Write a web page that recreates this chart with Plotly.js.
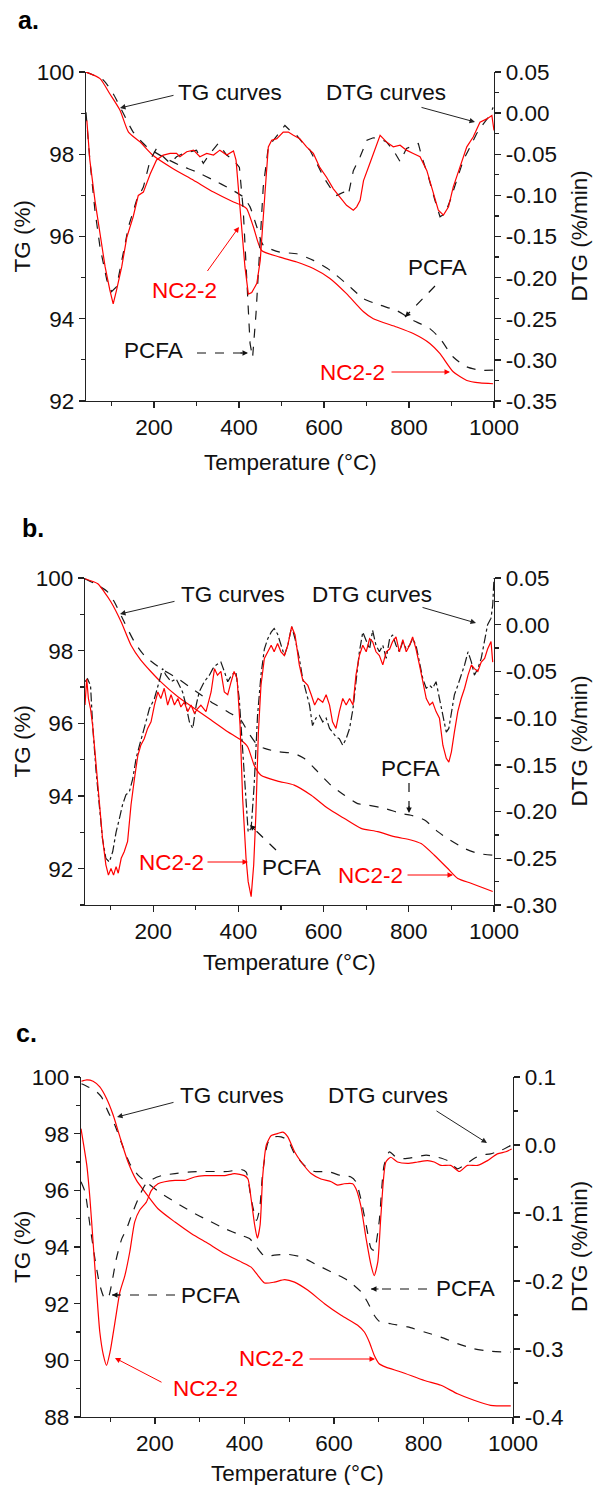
<!DOCTYPE html>
<html><head><meta charset="utf-8">
<script src="https://cdn.plot.ly/plotly-3.0.1.min.js"></script>
<style>html,body{margin:0;padding:0;background:#fff}#plot{width:594px;height:1485px}</style>
</head><body><div id="plot"></div>
<script>
// ---------- Panel a ----------
const aTgNcT = [40,73,96,120,140,167,198,245,293,340,387,406,418,434,453,496,536,575,614,653,693,716,771,810,849,873,904,936,967,998];
const aTgNc  = [100,99.84,99.47,99.07,98.54,98.3,97.97,97.65,97.37,97.08,96.84,96.76,96.68,96.23,95.66,95.5,95.38,95.22,94.98,94.61,94.17,94.0,93.8,93.64,93.4,93.15,92.71,92.5,92.44,92.42];
const aTgPcT = [40,81,104,128,151,183,222,261,300,340,379,410,426,442,457,496,536,575,614,653,693,732,771,810,849,873,904,936,967,998];
const aTgPc  = [100,99.8,99.47,98.99,98.54,98.18,97.93,97.73,97.57,97.37,97.16,96.96,96.72,96.23,95.79,95.62,95.58,95.42,95.18,94.85,94.49,94.33,94.2,93.96,93.76,93.52,93.07,92.83,92.75,92.75];
const aDtgNcT = [42,49,61,73,85,96,104,112,124,136,151,163,175,191,206,222,238,253,261,277,293,308,324,340,355,371,387,393,398,406,414,422,430,442,450,461,469,477,489,504,516,528,543,559,575,590,606,622,638,653,669,677,685,693,708,724,732,747,763,779,794,810,826,842,857,869,881,893,904,920,936,951,967,983,995,1000];
const aDtgNc  = [-0.009,-0.057,-0.106,-0.147,-0.187,-0.215,-0.232,-0.215,-0.187,-0.151,-0.126,-0.1,-0.096,-0.074,-0.057,-0.051,-0.049,-0.049,-0.053,-0.047,-0.045,-0.053,-0.049,-0.051,-0.045,-0.051,-0.046,-0.057,-0.09,-0.138,-0.187,-0.22,-0.218,-0.207,-0.179,-0.098,-0.041,-0.033,-0.031,-0.023,-0.023,-0.027,-0.031,-0.041,-0.049,-0.066,-0.078,-0.092,-0.102,-0.112,-0.118,-0.114,-0.106,-0.082,-0.061,-0.037,-0.027,-0.035,-0.041,-0.039,-0.045,-0.049,-0.053,-0.07,-0.098,-0.118,-0.124,-0.114,-0.09,-0.066,-0.041,-0.029,-0.011,-0.007,-0.003,-0.021];
const aDtgPcT = [40,49,61,73,89,100,112,124,140,159,175,191,206,222,238,253,269,285,300,316,332,351,371,387,401,410,418,426,432,440,449,457,469,481,497,508,520,536,551,567,583,599,614,630,646,657,669,685,701,716,732,747,763,779,794,810,822,830,846,861,873,885,897,912,928,944,959,975,987,998];
const aDtgPc  = [0.001,-0.057,-0.118,-0.163,-0.203,-0.217,-0.211,-0.179,-0.138,-0.106,-0.09,-0.057,-0.043,-0.053,-0.061,-0.053,-0.049,-0.047,-0.045,-0.061,-0.049,-0.037,-0.051,-0.057,-0.066,-0.118,-0.199,-0.28,-0.297,-0.244,-0.163,-0.09,-0.041,-0.033,-0.023,-0.015,-0.021,-0.027,-0.037,-0.045,-0.061,-0.078,-0.09,-0.1,-0.096,-0.1,-0.07,-0.053,-0.033,-0.03,-0.031,-0.035,-0.045,-0.059,-0.043,-0.039,-0.037,-0.053,-0.078,-0.106,-0.126,-0.122,-0.106,-0.082,-0.057,-0.041,-0.025,-0.013,-0.005,0.007];
const aDtgTicks  = [0.05,0,-0.05,-0.1,-0.15,-0.2,-0.25,-0.3,-0.35];
const aDtgLabels = ['0.05','0.00','-0.05','-0.10','-0.15','-0.20','-0.25','-0.30','-0.35'];

// ---------- Panel b ----------
const bTgNcT = [40,70,85,101,125,148,171,195,218,258,297,336,375,406,422,437,453,492,531,571,610,649,688,727,766,805,829,860,891,915,946,977,997];
const bTgNc  = [99.98,99.84,99.62,99.34,98.79,98.15,97.74,97.42,97.14,96.73,96.41,96.09,95.77,95.54,95.35,94.85,94.57,94.41,94.3,94.02,93.66,93.38,93.11,93.02,92.88,92.79,92.69,92.37,92.01,91.73,91.6,91.46,91.37];
const bTgPcT = [40,70,93,109,132,156,179,218,258,297,336,375,406,422,445,461,492,531,555,586,617,649,680,703,743,782,805,837,868,891,930,962,997];
const bTgPc  = [99.98,99.8,99.62,99.34,98.79,98.24,97.87,97.51,97.23,96.91,96.59,96.32,96.09,95.77,95.4,95.31,95.22,95.17,95.03,94.67,94.3,94.02,93.79,93.75,93.66,93.52,93.47,93.34,93.02,92.83,92.56,92.42,92.37];
const bDtgNcT = [40,44,48,53,58,66,74,81,89,95,101,107,113,118,125,132,140,148,156,164,171,179,187,195,203,211,218,226,234,242,250,258,265,273,281,289,297,304,312,324,336,344,351,359,367,375,383,390,397,404,410,418,423,430,436,441,447,453,461,469,477,484,492,500,508,516,525,533,543,551,563,571,579,587,598,606,614,621,629,637,645,653,661,669,676,684,692,700,708,715,723,731,739,747,755,762,770,778,786,794,802,809,817,825,833,841,849,856,864,872,880,888,894,900,907,915,923,931,939,947,954,962,970,978,985,993,997];
const bDtgNc  = [-0.086,-0.058,-0.079,-0.09,-0.108,-0.15,-0.185,-0.228,-0.257,-0.268,-0.261,-0.268,-0.259,-0.266,-0.25,-0.243,-0.232,-0.193,-0.165,-0.14,-0.129,-0.122,-0.111,-0.104,-0.086,-0.072,-0.079,-0.068,-0.086,-0.075,-0.086,-0.079,-0.088,-0.083,-0.093,-0.086,-0.095,-0.09,-0.086,-0.093,-0.072,-0.047,-0.054,-0.05,-0.072,-0.075,-0.061,-0.05,-0.058,-0.108,-0.186,-0.25,-0.275,-0.291,-0.257,-0.204,-0.115,-0.065,-0.036,-0.029,-0.022,-0.029,-0.02,-0.029,-0.033,-0.022,-0.002,-0.011,-0.043,-0.059,-0.065,-0.075,-0.086,-0.079,-0.083,-0.075,-0.086,-0.104,-0.111,-0.093,-0.079,-0.086,-0.079,-0.086,-0.054,-0.033,-0.022,-0.029,-0.015,-0.018,-0.029,-0.033,-0.043,-0.029,-0.026,-0.018,-0.013,-0.029,-0.016,-0.029,-0.022,-0.013,-0.026,-0.043,-0.061,-0.079,-0.086,-0.083,-0.093,-0.1,-0.129,-0.143,-0.147,-0.136,-0.115,-0.093,-0.079,-0.068,-0.054,-0.043,-0.047,-0.05,-0.04,-0.036,-0.026,-0.018,-0.04];
const bDtgPcT = [40,46,53,58,66,74,81,89,97,105,113,121,128,136,144,152,160,168,175,183,191,203,214,222,230,242,254,261,269,277,285,293,301,308,320,332,340,348,359,367,375,384,394,402,410,418,423,430,437,445,453,461,469,477,484,492,500,508,516,525,533,543,551,559,567,574,582,590,598,606,614,621,629,637,645,653,661,669,676,684,692,700,708,715,723,731,739,747,755,762,770,778,786,794,802,809,817,825,833,841,849,856,864,872,880,888,894,900,907,915,923,931,939,947,954,962,970,978,985,993,997,1000];
const bDtgPc  = [-0.061,-0.058,-0.065,-0.108,-0.157,-0.193,-0.229,-0.25,-0.254,-0.243,-0.222,-0.207,-0.193,-0.182,-0.179,-0.165,-0.143,-0.129,-0.118,-0.104,-0.09,-0.079,-0.061,-0.047,-0.054,-0.061,-0.058,-0.065,-0.072,-0.086,-0.104,-0.111,-0.086,-0.072,-0.061,-0.054,-0.047,-0.043,-0.04,-0.05,-0.061,-0.054,-0.05,-0.079,-0.132,-0.193,-0.222,-0.218,-0.172,-0.097,-0.054,-0.026,-0.015,-0.008,-0.004,-0.01,-0.022,-0.033,-0.022,-0.002,-0.015,-0.036,-0.058,-0.072,-0.086,-0.108,-0.1,-0.097,-0.104,-0.1,-0.111,-0.115,-0.12,-0.122,-0.129,-0.122,-0.111,-0.09,-0.058,-0.029,-0.008,-0.018,-0.026,-0.006,-0.022,-0.029,-0.022,-0.036,-0.015,-0.011,-0.022,-0.029,-0.018,-0.026,-0.022,-0.015,-0.022,-0.04,-0.058,-0.068,-0.065,-0.068,-0.061,-0.079,-0.097,-0.115,-0.111,-0.093,-0.075,-0.065,-0.054,-0.043,-0.029,-0.04,-0.054,-0.047,-0.036,-0.018,0.0,0.007,0.021,0.05];
const bDtgTicks  = [0.05,0,-0.05,-0.1,-0.15,-0.2,-0.25,-0.3];
const bDtgLabels = ['0.05','0.00','-0.05','-0.10','-0.15','-0.20','-0.25','-0.30'];

// ---------- Panel c ----------
const cTgNcT = [36,48,62,77,92,107,122,140,159,178,207,245,282,319,356,393,415,430,445,467,490,512,542,579,616,653,668,679,690,701,716,750,802,839,876,913,950,995];
const cTgNc  = [99.85,99.9,99.85,99.65,99.24,98.65,97.88,97.0,96.35,95.94,95.35,94.88,94.47,94.12,93.76,93.47,93.29,93.0,92.73,92.76,92.85,92.76,92.47,92.0,91.59,91.24,91.0,90.65,90.18,89.88,89.76,89.59,89.29,89.12,88.82,88.59,88.41,88.39];
const cTgPcT = [36,51,66,81,96,111,126,144,163,185,215,245,282,319,356,393,412,427,445,467,497,527,557,594,631,661,675,690,701,727,765,802,839,876,913,950,995];
const cTgPc  = [99.76,99.65,99.53,99.29,98.76,98.29,97.65,96.94,96.53,96.24,95.88,95.59,95.24,94.94,94.65,94.41,94.29,94.0,93.68,93.71,93.74,93.65,93.41,93.12,92.82,92.41,92.06,91.59,91.38,91.29,91.18,91.0,90.82,90.59,90.41,90.32,90.29];
const cDtgNcT = [35,40,48,55,62,70,77,85,92,100,111,122,133,144,155,166,181,192,207,222,245,267,289,311,334,356,378,400,408,415,423,429,435,441,449,460,475,486,497,512,527,549,571,594,608,623,642,649,660,672,683,690,698,705,716,727,742,765,787,809,824,839,861,880,898,921,943,965,984,997];
const cDtgNc  = [0.024,0.004,-0.03,-0.079,-0.143,-0.216,-0.275,-0.309,-0.324,-0.304,-0.26,-0.216,-0.192,-0.157,-0.113,-0.096,-0.084,-0.067,-0.057,-0.054,-0.052,-0.052,-0.047,-0.045,-0.045,-0.045,-0.042,-0.045,-0.05,-0.079,-0.118,-0.137,-0.118,-0.045,0.0,0.014,0.017,0.019,0.012,-0.01,-0.025,-0.042,-0.05,-0.054,-0.059,-0.057,-0.057,-0.064,-0.089,-0.138,-0.177,-0.192,-0.172,-0.103,-0.025,-0.018,-0.025,-0.027,-0.025,-0.023,-0.025,-0.03,-0.03,-0.039,-0.03,-0.03,-0.023,-0.013,-0.01,-0.006];
const cDtgPcT = [35,44,55,66,77,88,96,103,114,126,137,148,163,178,196,215,245,274,304,334,363,393,404,415,427,434,441,453,467,482,497,512,534,557,586,616,638,649,660,672,683,690,701,712,724,739,757,780,806,832,854,876,895,913,928,950,973,997];
const cDtgPc  = [-0.054,-0.069,-0.118,-0.167,-0.206,-0.226,-0.224,-0.206,-0.167,-0.138,-0.123,-0.103,-0.079,-0.059,-0.05,-0.045,-0.042,-0.04,-0.039,-0.039,-0.039,-0.036,-0.04,-0.079,-0.111,-0.094,-0.04,0.004,0.012,0.012,0.007,-0.013,-0.03,-0.039,-0.039,-0.045,-0.047,-0.054,-0.079,-0.118,-0.152,-0.155,-0.113,-0.03,-0.01,-0.018,-0.02,-0.018,-0.015,-0.018,-0.023,-0.035,-0.028,-0.02,-0.015,-0.013,-0.008,0.0];
const cDtgTicks  = [0.1,0,-0.1,-0.2,-0.3,-0.4];
const cDtgLabels = ['0.1','0.0','-0.1','-0.2','-0.3','-0.4'];

// ---------- helpers ----------
const W = 594, H = 1485;
const px = x => x / W, py = y => 1 - y / H;
const FONT = 'Liberation Sans, Arial, sans-serif';
const FS = 22.5;
const RED = '#ff0000', BLK = '#1a1a1a';

function trace(x, y, xa, ya, color, dash, shape) {
  return {x: x, y: y, xaxis: xa, yaxis: ya, mode: 'lines', hoverinfo: 'skip', showlegend: false,
          line: {color: color, width: 1.2, dash: dash || 'solid', shape: shape || 'linear', smoothing: 0.6}};
}
const data = [
  trace(aDtgPcT, aDtgPc, 'x', 'y2', BLK, 'dash'),
  trace(aDtgNcT, aDtgNc, 'x', 'y2', RED),
  trace(aTgPcT, aTgPc, 'x', 'y', BLK, 'dash', 'spline'),
  trace(aTgNcT, aTgNc, 'x', 'y', RED, 'solid', 'spline'),
  trace(bDtgPcT, bDtgPc, 'x2', 'y4', BLK, 'dashdot'),
  trace(bDtgNcT, bDtgNc, 'x2', 'y4', RED),
  trace(bTgPcT, bTgPc, 'x2', 'y3', BLK, 'dash', 'spline'),
  trace(bTgNcT, bTgNc, 'x2', 'y3', RED, 'solid', 'spline'),
  trace(cDtgPcT, cDtgPc, 'x3', 'y6', BLK, 'dash', 'spline'),
  trace(cDtgNcT, cDtgNc, 'x3', 'y6', RED, 'solid', 'spline'),
  trace(cTgPcT, cTgPc, 'x3', 'y5', BLK, 'dash', 'spline'),
  trace(cTgNcT, cTgNc, 'x3', 'y5', RED, 'solid', 'spline')
];

const axBase = {showgrid: false, zeroline: false, showline: true, linecolor: '#222', linewidth: 1.3,
  ticks: 'outside', ticklen: 6, tickwidth: 1.3, tickcolor: '#222',
  tickfont: {family: FONT, size: FS, color: '#111'}, fixedrange: true};
function xax(dom, anchor, range) {
  return Object.assign({}, axBase, {domain: dom, anchor: anchor, range: range, tickmode: 'linear', tick0: 0, dtick: 200,
    minor: {dtick: 100, tick0: 0, ticks: 'outside', ticklen: 3.5, tickwidth: 1.2, tickcolor: '#222'}});
}
function xtop(over, anchor, range) {
  return Object.assign({}, axBase, {overlaying: over, anchor: anchor, side: 'top', range: range, showticklabels: false,
    ticks: 'inside', tickmode: 'linear', tick0: 0, dtick: 200,
    minor: {dtick: 100, tick0: 0, ticks: 'inside', ticklen: 3.5, tickwidth: 1.2, tickcolor: '#222'}});
}
function yl(dom, anchor, range) {
  return Object.assign({}, axBase, {domain: dom, anchor: anchor, range: range, tickmode: 'linear', tick0: 0, dtick: 2,
    minor: {dtick: 1, tick0: 0, ticks: 'outside', ticklen: 3.5, tickwidth: 1.2, tickcolor: '#222'}});
}
function yr(over, anchor, range, vals, text, minorStep) {
  return Object.assign({}, axBase, {overlaying: over, anchor: anchor, side: 'right', range: range,
    tickmode: 'array', tickvals: vals, ticktext: text,
    minor: {dtick: minorStep, tick0: 0, ticks: 'outside', ticklen: 3.5, tickwidth: 1.2, tickcolor: '#222'}});
}

const A = {top: 72, bot: 401, l: 86, r: 494};
const B = {top: 578, bot: 905, l: 85, r: 494};
const C = {top: 1077, bot: 1417, l: 81, r: 513};

const layout = {
  width: W, height: H, margin: {l: 0, r: 0, t: 0, b: 0}, paper_bgcolor: '#fff', plot_bgcolor: 'rgba(0,0,0,0)',
  showlegend: false, font: {family: FONT, size: FS, color: '#111'},
  xaxis: xax([px(A.l), px(A.r)], 'y', [40, 1000]),
  yaxis: yl([py(A.bot), py(A.top)], 'x', [92, 100]),
  yaxis2: yr('y', 'x', [-0.35, 0.05], aDtgTicks, aDtgLabels, 0.025),
  xaxis4: xtop('x', 'y', [40, 1000]),
  xaxis2: xax([px(B.l), px(B.r)], 'y3', [40, 1000]),
  yaxis3: yl([py(B.bot), py(B.top)], 'x2', [91, 100]),
  yaxis4: yr('y3', 'x2', [-0.30, 0.05], bDtgTicks, bDtgLabels, 0.025),
  xaxis5: xtop('x2', 'y3', [40, 1000]),
  xaxis3: xax([px(C.l), px(C.r)], 'y5', [35, 1000]),
  yaxis5: yl([py(C.bot), py(C.top)], 'x3', [88, 100]),
  yaxis6: yr('y5', 'x3', [-0.4, 0.1], cDtgTicks, cDtgLabels, 0.05),
  xaxis6: xtop('x3', 'y5', [35, 1000]),
  annotations: [], shapes: []
};

function label(text, x, y, color, opts) {
  layout.annotations.push(Object.assign({text: text, x: px(x), y: py(y), xref: 'paper', yref: 'paper',
    xanchor: 'center', yanchor: 'middle', showarrow: false,
    font: {family: FONT, size: FS, color: color || '#111'}}, opts || {}));
}
function arrow(tx, ty, hx, hy, color) {
  layout.annotations.push({text: ' ', x: px(hx), y: py(hy), xref: 'paper', yref: 'paper',
    ax: tx - hx, ay: ty - hy, showarrow: true, arrowhead: 2, arrowsize: 1.1, arrowwidth: 1,
    arrowcolor: color, font: {size: 1}});
}
function dashArrow(tx, ty, hx, hy, color) {
  layout.shapes.push({type: 'line', xref: 'paper', yref: 'paper', x0: px(tx), y0: py(ty), x1: px(hx), y1: py(hy),
    line: {color: color, width: 1.2, dash: 'dash'}});
  const dx = tx - hx, dy = ty - hy, L = Math.hypot(dx, dy);
  arrow(hx + dx / L * 9, hy + dy / L * 9, hx, hy, color);
}

// panel letters
label('<b>a.</b>', 16, 20, '#000', {xanchor: 'left', font: {family: FONT, size: 25, color: '#000'}});
label('<b>b.</b>', 20, 528, '#000', {xanchor: 'left', font: {family: FONT, size: 25, color: '#000'}});
label('<b>c.</b>', 14, 1033, '#000', {xanchor: 'left', font: {family: FONT, size: 25, color: '#000'}});

// axis titles
[[A, 462], [B, 963], [C, 1473]].forEach(([P, yy]) => {
  label('Temperature (°C)', (P.l + P.r) / 2, yy);
  label('TG (%)', 22, (P.top + P.bot) / 2, '#111', {textangle: -90});
  label('DTG (%/min)', 579, (P.top + P.bot) / 2, '#111', {textangle: -90});
});

// panel a annotations
label('TG curves', 230, 93); arrow(175, 95, 120, 108, '#222');
label('DTG curves', 386, 93); arrow(420, 107, 475, 122, '#222');
label('NC2-2', 184, 290, RED); arrow(206, 273, 239, 227, RED);
label('PCFA', 153, 350); dashArrow(197, 353, 248, 353, '#111');
label('PCFA', 437, 268); dashArrow(435, 286, 405, 317, '#111');
label('NC2-2', 352, 372, RED); arrow(390, 372, 450, 372, RED);

// panel b annotations
label('TG curves', 233, 594); arrow(176, 601, 120, 614, '#222');
label('DTG curves', 372, 594); arrow(421, 607, 476, 623, '#222');
label('PCFA', 410, 768); dashArrow(409, 783, 409, 813, '#111');
label('NC2-2', 171, 862, RED); arrow(206, 862, 248, 862, RED);
label('PCFA', 291, 867); dashArrow(276, 850, 250, 825, '#111');
label('NC2-2', 370, 875, RED); arrow(406, 875, 453, 875, RED);

// panel c annotations
label('TG curves', 232, 1095); arrow(175, 1102, 117, 1117, '#222');
label('DTG curves', 388, 1095); arrow(435, 1110, 487, 1143, '#222');
label('PCFA', 210, 1295); dashArrow(175, 1295, 112, 1295, '#111');
label('PCFA', 465, 1288); dashArrow(427, 1289, 371, 1289, '#111');
label('NC2-2', 271, 1358, RED); arrow(308, 1359, 375, 1359, RED);
label('NC2-2', 205, 1388, RED); arrow(163, 1383, 115, 1358, RED);

Plotly.newPlot('plot', data, layout, {staticPlot: true, displayModeBar: false});
</script>
</body></html>
